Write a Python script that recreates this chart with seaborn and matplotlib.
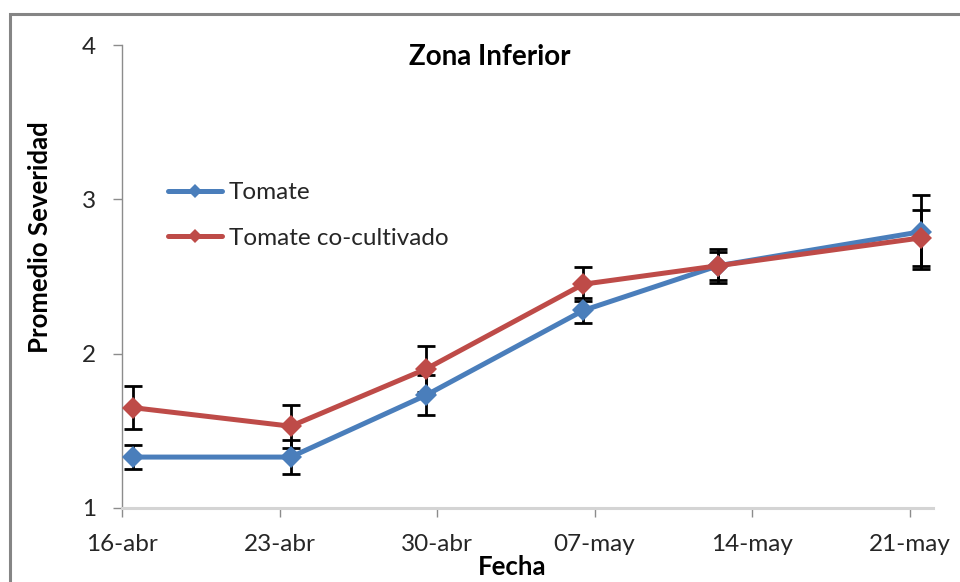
import matplotlib
matplotlib.use("Agg")
import matplotlib.pyplot as plt
import matplotlib.patches as mpatches
import seaborn as sns
import pandas as pd
import numpy as np

# ---- data ----
fechas = ["2010-04-16", "2010-04-23", "2010-04-29", "2010-05-06", "2010-05-12", "2010-05-21"]
tomate = [1.33, 1.33, 1.73, 2.28, 2.57, 2.79]
tomate_err = [0.08, 0.11, 0.13, 0.08, 0.11, 0.24]
cocult = [1.65, 1.53, 1.90, 2.45, 2.57, 2.75]
cocult_err = [0.14, 0.14, 0.15, 0.11, 0.09, 0.18]
series = ["Tomate", "Tomate co-cultivado"]
tick_fechas = ["2010-04-16", "2010-04-23", "2010-04-30", "2010-05-07", "2010-05-14", "2010-05-21"]
tick_labels = ["16-abr", "23-abr", "30-abr", "07-may", "14-may", "21-may"]
y_ticks = [1, 2, 3, 4]

sns.set_theme(style="white")
plt.rcParams["font.family"] = ["Lato", "DejaVu Sans"]

# Excel date axis places points at middle of the day
x_dates = pd.to_datetime(fechas) + pd.Timedelta(hours=12)
df = pd.DataFrame({
    "Fecha": list(x_dates) * 2,
    "sev": tomate + cocult,
    "err": tomate_err + cocult_err,
    "serie": [series[0]] * len(fechas) + [series[1]] * len(fechas),
})

colors = {series[0]: "#4a7ebb", series[1]: "#be4b48"}

fig = plt.figure(figsize=(9.6, 5.82), dpi=100)
ax = fig.add_axes([122 / 960, 1 - 508 / 582, (933 - 122) / 960, (508 - 45) / 582])

# error bars
for s in series:
    d = df[df["serie"] == s]
    ax.errorbar(d["Fecha"], d["sev"], yerr=d["err"], fmt="none", ecolor="black",
                elinewidth=2.0, capsize=6.5, capthick=2.0, zorder=2)

sns.lineplot(data=df, x="Fecha", y="sev", hue="serie", palette=colors, ax=ax,
             marker="D", markersize=11.5, markeredgewidth=0, linewidth=3.6,
             zorder=3, legend=True)

ax.set_ylim(1, 4)
ax.set_xlim(pd.Timestamp("2010-04-16"), pd.Timestamp("2010-05-22") + pd.Timedelta(hours=1))
ax.set_yticks(y_ticks)
ax.set_yticklabels([str(v) for v in y_ticks])
ax.set_xticks(pd.to_datetime(tick_fechas))
ax.set_xticklabels(tick_labels)

for sp in ["top", "right"]:
    ax.spines[sp].set_visible(False)
ax.spines["left"].set_color("#8c8c8c")
ax.spines["left"].set_linewidth(1.0)
ax.spines["bottom"].set_color("#d4d4d4")
ax.spines["bottom"].set_linewidth(2.2)

ax.tick_params(axis="y", direction="out", length=6.5, width=1.0, color="#8c8c8c",
               labelsize=17.5, labelcolor="#262626", pad=12, left=True)
ax.tick_params(axis="x", direction="out", length=6.5, width=1.0, color="#8c8c8c",
               labelsize=17.5, labelcolor="#262626", pad=12, bottom=True)

ax.set_ylabel("Promedio Severidad", fontsize=18.5, fontweight="bold", color="black")
ax.yaxis.set_label_coords(-0.086, 0.585)
ax.set_xlabel("Fecha", fontsize=18.5, fontweight="bold", color="black")
ax.xaxis.set_label_coords(0.481, -0.128)
ax.xaxis.label.set_va("center")

ax.text(0.454, 0.974, "Zona Inferior", transform=ax.transAxes, fontsize=20,
        fontweight="bold", ha="center", va="center", color="black")

# legend
handles, labels = ax.get_legend_handles_labels()
for h in handles:
    h.set_markersize(7.5)
    h.set_linewidth(3.6)
leg = ax.legend(handles, labels, loc="center left", bbox_to_anchor=(0.057, 0.632),
                frameon=False, fontsize=17.5, handlelength=2.2, handletextpad=0.3,
                labelspacing=1.0, borderaxespad=0, borderpad=0)
for t in leg.get_texts():
    t.set_color("#262626")

# outer chart frame
fig.patches.append(mpatches.Rectangle((10 / 960, -0.1), 1.2, 1 - 14 / 582 + 0.1,
                                      transform=fig.transFigure, fill=False,
                                      edgecolor="#858585", linewidth=2.2))

fig.savefig("out.png", dpi=100)
